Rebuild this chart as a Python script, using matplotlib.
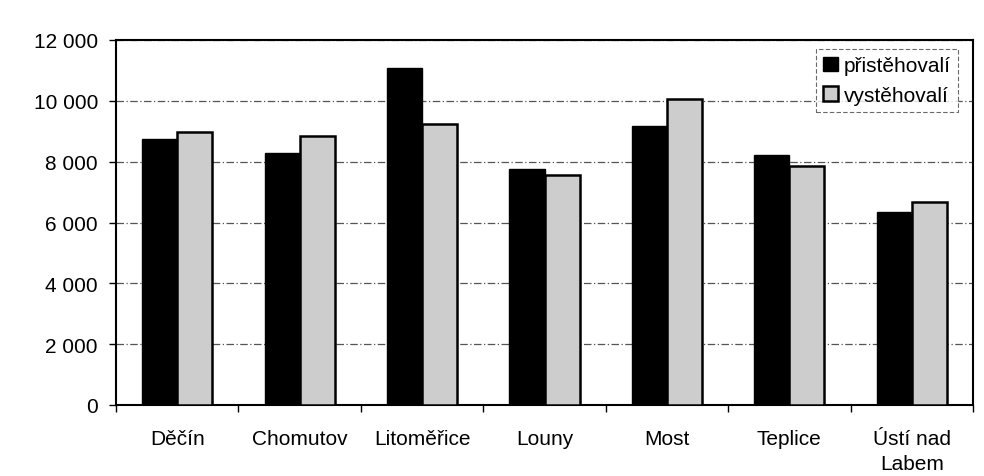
import matplotlib
matplotlib.use("Agg")
import matplotlib.pyplot as plt
import numpy as np
from matplotlib.ticker import FuncFormatter, FixedLocator

categories = ["Děčín", "Chomutov", "Litoměřice", "Louny", "Most", "Teplice", "Ústí nad\nLabem"]
pristehovali = [8750, 8280, 11090, 7750, 9160, 8220, 6330]
vystehovali = [8990, 8840, 9235, 7560, 10050, 7870, 6680]
series_names = ["přistěhovalí", "vystěhovalí"]
yticks = [0, 2000, 4000, 6000, 8000, 10000, 12000]

plt.rcParams['font.family'] = ['Liberation Sans', 'DejaVu Sans']

fig = plt.figure(figsize=(9.84, 4.77), dpi=100)
ax = fig.add_axes([116/984, 1-406/477, (973-116)/984, (406-41)/477])

x = np.arange(len(categories))
w = 0.286
ax.bar(x - w/2, pristehovali, w, color="black", edgecolor="black", linewidth=1.0,
       label=series_names[0], zorder=3)
ax.bar(x + w/2, vystehovali, w, color="#cdcdcd", edgecolor="black", linewidth=1.8,
       label=series_names[1], zorder=3)

ax.set_xlim(-0.5, len(categories) - 0.5)
ax.set_ylim(0, 12000)
ax.set_yticks(yticks)
ax.yaxis.set_major_formatter(FuncFormatter(lambda v, p: f"{int(v):,}".replace(",", " ")))
ax.set_xticks(x)
ax.set_xticklabels(categories, fontsize=15, linespacing=1.45)
ax.xaxis.set_minor_locator(FixedLocator(np.arange(-0.5, len(categories), 1.0)))
ax.tick_params(axis='x', which='major', length=0, pad=17)
ax.tick_params(axis='x', which='minor', length=5, width=1, direction='out')
ax.tick_params(axis='y', length=5, width=1, direction='out', labelsize=15, pad=8)

ax.yaxis.grid(True, color="#555555", linestyle=(0, (6, 2, 1, 2)), linewidth=0.9, zorder=0)
ax.set_axisbelow(True)
for s in ax.spines.values():
    s.set_color("black")
    s.set_linewidth(1.5)

leg = ax.legend(loc="upper right", bbox_to_anchor=(0.983, 0.975), fontsize=15,
                frameon=True, fancybox=False, handlelength=0.7, handleheight=0.7,
                handletextpad=0.3, borderpad=0.35, labelspacing=0.5, borderaxespad=0)
leg.get_frame().set_edgecolor("#444444")
leg.get_frame().set_linestyle((0, (4, 2)))
leg.get_frame().set_linewidth(0.8)

fig.savefig("out.png", dpi=100)
